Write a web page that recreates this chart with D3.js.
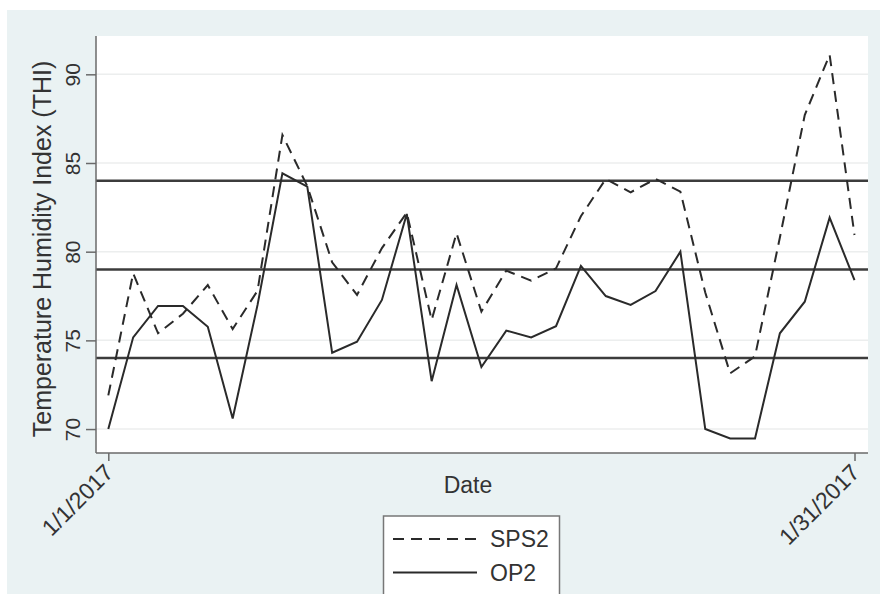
<!DOCTYPE html>
<html>
<head>
<meta charset="utf-8">
<script src="https://cdn.jsdelivr.net/npm/d3@7"></script>
<style>
  html, body { margin: 0; padding: 0; background: #fff; }
  svg { display: block; font-family: "Liberation Sans", Arial, sans-serif; }
</style>
</head>
<body>
<svg id="chart" width="880" height="594"></svg>
<script>
// ── Data ──────────────────────────────────────────────────────────────────────
const days = d3.range(1, 32).map(d => new Date(Date.UTC(2017, 0, d)));
const sps2 = [71.9, 78.78, 75.4, 76.5, 78.12, 75.64, 77.8, 86.58, 83.7, 79.4,
              77.56, 80.2, 82.2, 76.15, 81.04, 76.62, 78.93, 78.37, 79.06, 82.0,
              84.1, 83.35, 84.1, 83.38, 77.7, 73.14, 74.1, 80.8, 87.7, 91.1, 80.94];
const op2  = [70.0, 75.17, 76.94, 76.94, 75.77, 70.6, 77.0, 84.42, 83.67, 74.3,
              74.92, 77.28, 82.13, 72.7, 78.12, 73.5, 75.55, 75.17, 75.8, 79.2,
              77.5, 77.0, 77.78, 80.0, 70.0, 69.47, 69.47, 75.4, 77.18, 81.92, 78.4];
const yTicks = [70, 75, 80, 85, 90];
const refLines = [84, 79, 74];
const xTickLabels = ["1/1/2017", "1/31/2017"];
const seriesNames = ["SPS2", "OP2"];

// ── Layout ────────────────────────────────────────────────────────────────────
const plot = { left: 96, right: 868, top: 36, bottom: 453 };
const ink = "#2a2a2a";
const dash = "11,7";

const svg = d3.select("#chart");

svg.append("rect").attr("x", 7).attr("y", 10).attr("width", 873).attr("height", 584)
  .attr("fill", "#eaf2f3");
svg.append("rect").attr("x", plot.left).attr("y", plot.top)
  .attr("width", plot.right - plot.left).attr("height", plot.bottom - plot.top)
  .attr("fill", "#fff");

const x = d3.scaleUtc().domain([days[0], days[30]]).range([108.3, 854.5]);
const y = d3.scaleLinear().domain([68.65, 92.16]).range([plot.bottom, plot.top]);

// gridlines
svg.append("g").selectAll("line").data(yTicks).join("line")
  .attr("x1", plot.left).attr("x2", plot.right)
  .attr("y1", d => y(d)).attr("y2", d => y(d))
  .attr("stroke", "#eceeee").attr("stroke-width", 1.5);

// reference lines
svg.append("g").selectAll("line").data(refLines).join("line")
  .attr("x1", plot.left).attr("x2", plot.right)
  .attr("y1", d => y(d)).attr("y2", d => y(d))
  .attr("stroke", "#3c3c3c").attr("stroke-width", 2.5);

// series
const line = d3.line().x((d, i) => x(days[i])).y(d => y(d));
svg.append("path").datum(sps2).attr("d", line)
  .attr("fill", "none").attr("stroke", ink).attr("stroke-width", 2)
  .attr("stroke-dasharray", dash);
svg.append("path").datum(op2).attr("d", line)
  .attr("fill", "none").attr("stroke", ink).attr("stroke-width", 2);

// ── Axes ──────────────────────────────────────────────────────────────────────
const yAxis = svg.append("g").attr("transform", `translate(${plot.left},0)`)
  .call(d3.axisLeft(y).tickValues(yTicks).tickSize(10).tickFormat(d3.format("d")));
yAxis.select(".domain").attr("d", `M0,${plot.top}V${plot.bottom}`)
  .attr("stroke", "#6a6a6a").attr("stroke-width", 1.5);
yAxis.selectAll(".tick line").attr("stroke", "#6a6a6a").attr("stroke-width", 1.5);
yAxis.selectAll(".tick text")
  .attr("x", 0).attr("dy", 0)
  .attr("transform", "translate(-16,0) rotate(-90)")
  .attr("text-anchor", "middle")
  .attr("font-size", 21).attr("fill", "#333");

const xAxis = svg.append("g").attr("transform", `translate(0,${plot.bottom})`)
  .call(d3.axisBottom(x).tickValues([days[0], days[30]]).tickSize(8)
    .tickFormat((d, i) => xTickLabels[i]));
xAxis.select(".domain").attr("d", `M${plot.left},0H${plot.right}`)
  .attr("stroke", "#6a6a6a").attr("stroke-width", 1.5);
xAxis.selectAll(".tick line").attr("stroke", "#6a6a6a").attr("stroke-width", 1.5);
xAxis.selectAll(".tick text")
  .attr("y", 0).attr("dy", 0)
  .attr("transform", "translate(6,21) rotate(-45)")
  .attr("text-anchor", "end")
  .attr("font-size", 23).attr("fill", "#333");

// titles
svg.append("text").attr("transform", "translate(51,249) rotate(-90)")
  .attr("text-anchor", "middle").attr("font-size", 25).attr("fill", "#333")
  .text("Temperature Humidity Index (THI)");
svg.append("text").attr("x", 468).attr("y", 493)
  .attr("text-anchor", "middle").attr("font-size", 23).attr("fill", "#333")
  .text("Date");

// ── Legend ────────────────────────────────────────────────────────────────────
const legend = svg.append("g");
legend.append("rect").attr("x", 383.5).attr("y", 516).attr("width", 176).attr("height", 90)
  .attr("fill", "#fff").attr("stroke", "#777").attr("stroke-width", 1.5);
const rows = legend.selectAll("g.row").data(seriesNames).join("g")
  .attr("class", "row").attr("transform", (d, i) => `translate(0,${539 + i * 33.5})`);
rows.append("line").attr("x1", 393).attr("x2", 477).attr("y1", 0).attr("y2", 0)
  .attr("stroke", ink).attr("stroke-width", 2)
  .attr("stroke-dasharray", (d, i) => i === 0 ? dash : null);
rows.append("text").attr("x", 490).attr("y", 8)
  .attr("font-size", 23).attr("fill", "#333").text(d => d);
</script>
</body>
</html>
